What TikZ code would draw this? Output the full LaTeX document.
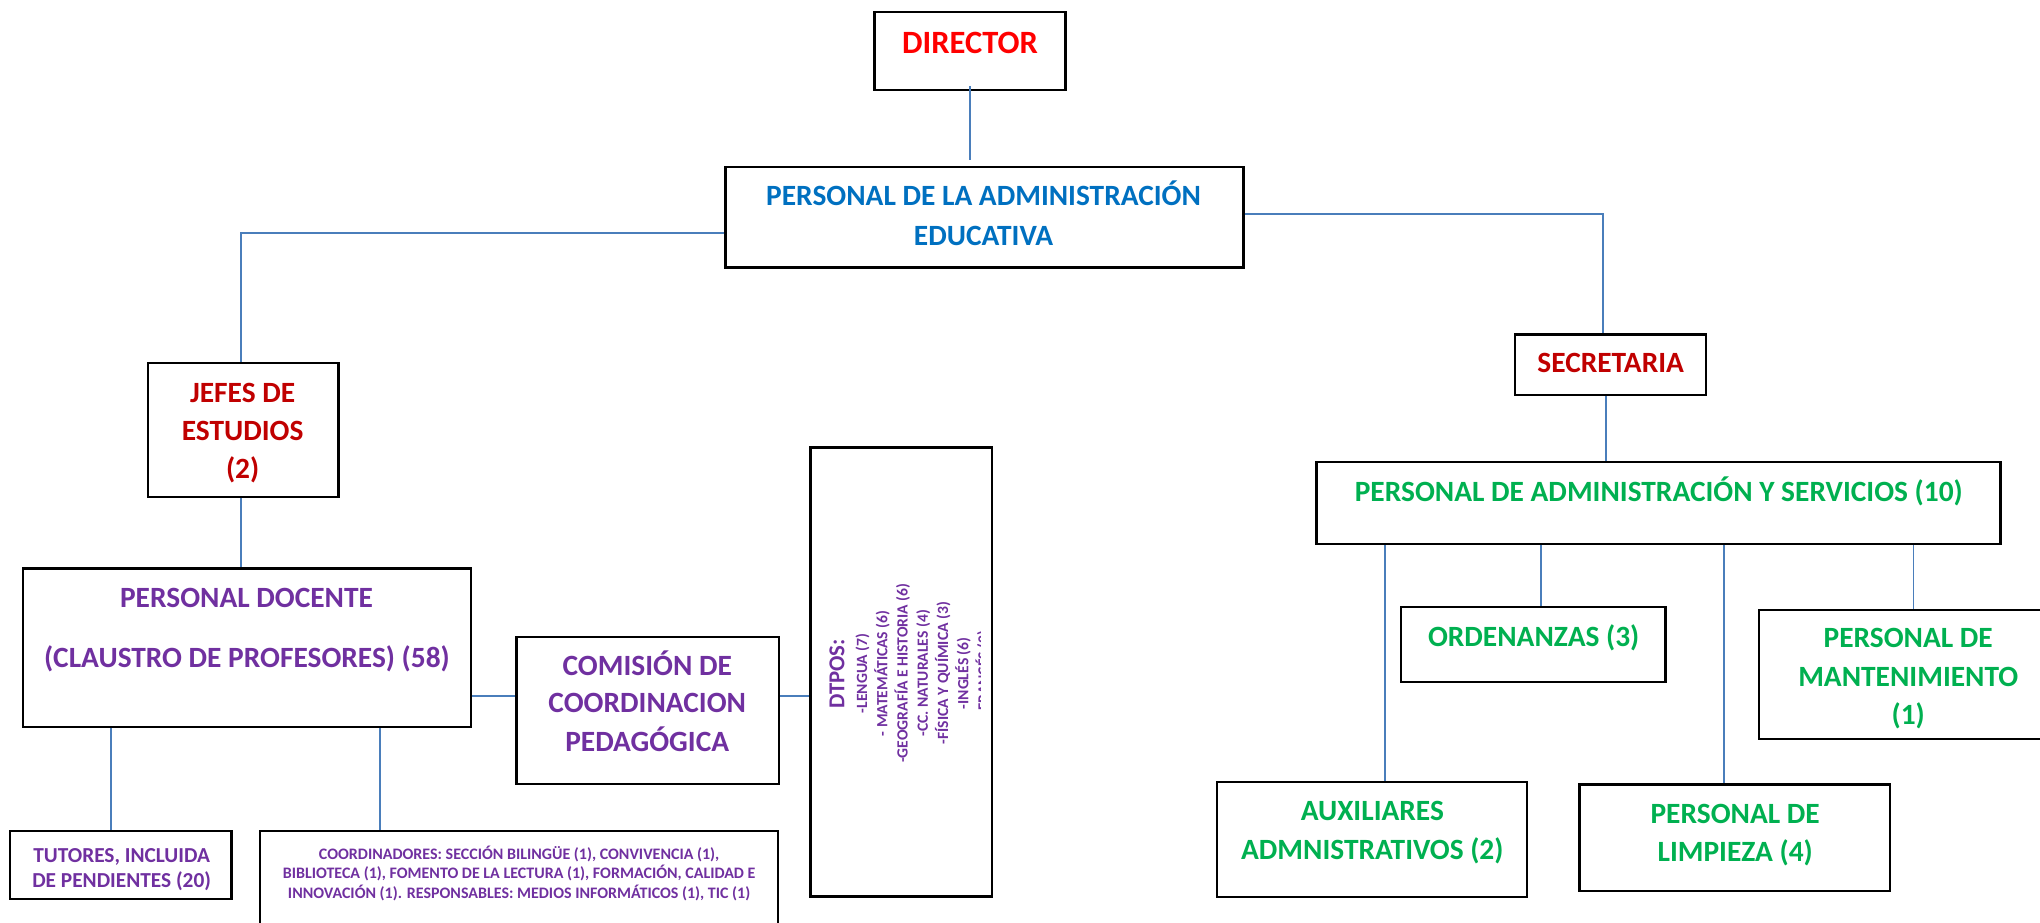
\documentclass[tikz,border=0pt]{standalone}
\usepackage{fontspec}
\setmainfont{Carlito}
\definecolor{cRed}{HTML}{FF0000}
\definecolor{cBlue}{HTML}{0070C0}
\definecolor{cDark}{HTML}{C00000}
\definecolor{cPurple}{HTML}{7030A0}
\definecolor{cGreen}{HTML}{00B050}
\definecolor{cLine}{HTML}{4A7EBB}
\begin{document}
\begin{tikzpicture}[x=1pt,y=-1pt,
  box/.style={draw=black, line width=1.8pt, inner sep=0pt},
  conn/.style={draw=cLine, line width=1.4pt},
  tx/.style={inner sep=0pt, anchor=base},
  fbig/.style={font=\bfseries\fontsize{25}{29}\selectfont},
  fmain/.style={font=\bfseries\fontsize{22.6}{26}\selectfont},
  ftut/.style={font=\bfseries\fontsize{16.4}{19}\selectfont},
  fsmall/.style={font=\bfseries\fontsize{12.3}{14}\selectfont},
  fdep/.style={font=\bfseries\fontsize{12}{14}\selectfont},
  fdeph/.style={font=\bfseries\fontsize{17.5}{19}\selectfont},
  rot/.style={rotate=90}]
\useasboundingbox (0,0) rectangle (1568,709);
\clip (0,0) rectangle (1568,709);

% ---------- boxes ----------
\node[box, minimum width=146.9pt, minimum height=60.2pt] (dir) at (745.6,39.1) {};
\node[box, minimum width=398pt, minimum height=77pt] (pae) at (756.7,167) {};
\node[box, minimum width=146.3pt, minimum height=103pt] (jefes) at (186.9,330.5) {};
\node[box, minimum width=344.4pt, minimum height=122pt] (pd) at (189.8,498) {};
\node[box, minimum width=202pt, minimum height=113pt] (com) at (498,546) {};
\node[box, minimum width=139.3pt, minimum height=345pt] (dtpos) at (692.6,516.5) {};
\node[box, minimum width=170.3pt, minimum height=52.5pt] (tut) at (92.9,664.8) {};
\node[box, minimum width=398pt, minimum height=101.5pt] (coord) at (399,689.25) {};
\node[box, minimum width=146.6pt, minimum height=46.4pt] (sec) at (1238,280.2) {};
\node[box, minimum width=525.5pt, minimum height=63pt] (pas) at (1274.75,386.5) {};
\node[box, minimum width=203pt, minimum height=57.5pt] (ord) at (1178.5,495.25) {};
\node[box, minimum width=229.8pt, minimum height=99pt] (mant) at (1466.7,518.5) {};
\node[box, minimum width=238pt, minimum height=88.5pt] (aux) at (1054.5,645.25) {};
\node[box, minimum width=238.7pt, minimum height=82pt] (limp) at (1333.35,644) {};

% ---------- texts ----------
\node[tx, fbig, text=cRed] (dirT) at (745.6,41.3) {DIRECTOR};
\node[tx, fmain, text=cBlue] (paeT1) at (756,157.7) {PERSONAL DE LA ADMINISTRACIÓN};
\node[tx, fmain, text=cBlue] (paeT2) at (756,188.5) {EDUCATIVA};
\node[tx, fmain, text=cDark] (jefT1) at (186.5,309) {JEFES DE};
\node[tx, fmain, text=cDark] (jefT2) at (186.5,338.5) {ESTUDIOS};
\node[tx, fmain, text=cDark] (jefT3) at (186.5,368) {(2)};
\node[tx, fmain, text=cPurple] (pdT1) at (189.5,467) {PERSONAL DOCENTE};
\node[tx, fmain, text=cPurple] (pdT2) at (189.8,513) {(CLAUSTRO DE PROFESORES) (58)};
\node[tx, fmain, text=cPurple] (comT1) at (497.5,519) {COMISIÓN DE};
\node[tx, fmain, text=cPurple] (comT2) at (497.5,548) {COORDINACION};
\node[tx, fmain, text=cPurple] (comT3) at (497.5,578) {PEDAGÓGICA};
\node[tx, ftut, text=cPurple] (tutT1) at (93.5,663) {TUTORES, INCLUIDA};
\node[tx, ftut, text=cPurple] (tutT2) at (93.5,682) {DE PENDIENTES (20)};
\node[tx, fsmall, text=cPurple] (coT1) at (399,660.3) {COORDINADORES: SECCIÓN BILINGÜE (1), CONVIVENCIA (1),};
\node[tx, fsmall, text=cPurple] (coT2) at (399,675.3) {BIBLIOTECA (1), FOMENTO DE LA LECTURA (1), FORMACIÓN, CALIDAD E};
\node[tx, fsmall, text=cPurple] (coT3) at (399,690.7) {INNOVACIÓN (1). RESPONSABLES: MEDIOS INFORMÁTICOS (1), TIC (1)};
\node[tx, fmain, text=cDark] (secT) at (1238,286.5) {SECRETARIA};
\node[tx, fmain, text=cGreen] (pasT) at (1275,385.6) {PERSONAL DE ADMINISTRACIÓN Y SERVICIOS (10)};
\node[tx, fmain, text=cGreen] (ordT) at (1178.8,497) {ORDENANZAS (3)};
\node[tx, fmain, text=cGreen] (manT1) at (1466.7,498) {PERSONAL DE};
\node[tx, fmain, text=cGreen] (manT2) at (1466.7,527.5) {MANTENIMIENTO};
\node[tx, fmain, text=cGreen] (manT3) at (1466.7,557) {(1)};
\node[tx, fmain, text=cGreen] (auxT1) at (1054.8,631) {AUXILIARES};
\node[tx, fmain, text=cGreen] (auxT2) at (1054.8,660.5) {ADMNISTRATIVOS (2)};
\node[tx, fmain, text=cGreen] (limT1) at (1333.7,633) {PERSONAL DE};
\node[tx, fmain, text=cGreen] (limT2) at (1333.7,662) {LIMPIEZA (4)};

% rotated department list, clipped like the text box
\begin{scope}
\clip (dtpos.north west) rectangle ([xshift=131.5pt]dtpos.south west);
\node[tx, rot, fdeph, text=cPurple] (dpH) at (649.0,518) {DTPOS:};
\node[tx, rot, fdep, text=cPurple] (dp1) at (666.5,517.5) {-LENGUA (7)};
\node[tx, rot, fdep, text=cPurple] (dp2) at (682.0,517.5) {- MATEMÁTICAS (6)};
\node[tx, rot, fdep, text=cPurple] (dp3) at (697.6,517.5) {-GEOGRAFÍA E HISTORIA (6)};
\node[tx, rot, fdep, text=cPurple] (dp4) at (713.2,517.5) {-CC. NATURALES (4)};
\node[tx, rot, fdep, text=cPurple] (dp5) at (728.7,517.5) {-FÍSICA Y QUÍMICA (3)};
\node[tx, rot, fdep, text=cPurple] (dp6) at (744.3,517.5) {-INGLÉS (6)};
\node[tx, rot, fdep, text=cPurple] (dp7) at (759.8,517.5) {-FRANCÉS (2)};
\end{scope}

% ---------- connectors ----------
\coordinate (c0) at ([yshift=4pt]dir.south);
\draw[conn] (c0) -- ([yshift=5pt]c0 |- pae.north);
\draw[conn] ([yshift=-11.8pt]pae.west) -| ([xshift=-1.8pt]jefes.north);
\draw[conn] ([yshift=2.5pt]pae.east) -| ([xshift=-5.6pt]sec.north);
\coordinate (c1) at ([xshift=-1.8pt]jefes.south);
\draw[conn] (c1) -- (c1 |- pd.north);
\coordinate (c2) at ([yshift=-37pt]pd.east);
\draw[conn] (c2) -- (c2 -| com.west);
\coordinate (c3) at ([yshift=11pt]com.east);
\draw[conn] (c3) -- (c3 -| dtpos.west);
\coordinate (c4) at ([xshift=-104.3pt]pd.south);
\draw[conn] (c4) -- (c4 |- tut.north);
\coordinate (c5) at ([xshift=102.2pt]pd.south);
\draw[conn] (c5) -- (c5 |- coord.north);
\coordinate (c6) at ([xshift=-3.5pt]sec.south);
\draw[conn] (c6) -- (c6 |- pas.north);
\coordinate (c7) at ([xshift=10pt]aux.north);
\draw[conn] (c7 |- pas.south) -- (c7);
\coordinate (c8) at ([xshift=5.8pt]ord.north);
\draw[conn] (c8 |- pas.south) -- (c8);
\coordinate (c9) at ([xshift=-8.3pt]limp.north);
\draw[conn] (c9 |- pas.south) -- (c9);
\coordinate (c10) at ([xshift=4.1pt]mant.north);
\draw[conn] (c10 |- pas.south) -- (c10);
\end{tikzpicture}
\end{document}
